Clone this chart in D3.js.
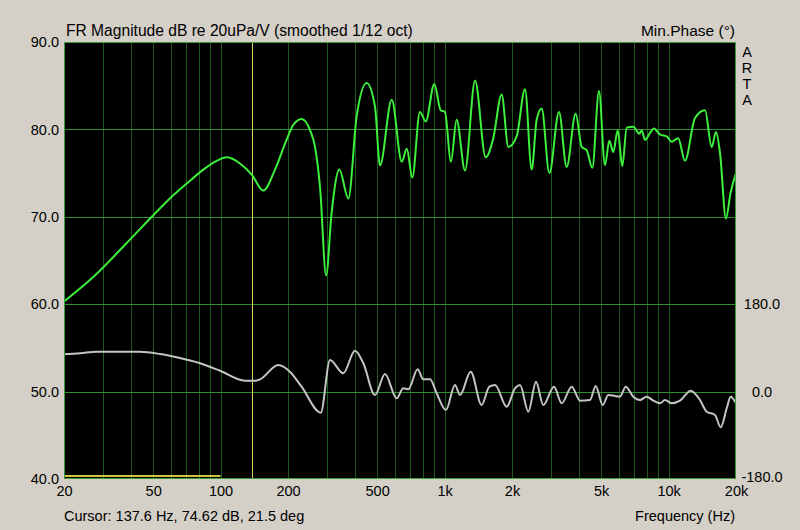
<!DOCTYPE html>
<html>
<head>
<meta charset="utf-8">
<script src="https://cdn.jsdelivr.net/npm/d3@7"></script>
<style>
  html, body { margin: 0; padding: 0; background: #d4d0c8; }
  svg text { font-family: "Liberation Sans", Arial, sans-serif; font-size: 14.5px; fill: #000; }
</style>
</head>
<body>
<div id="chart"></div>
<script>
/* Magnitude response (Hz, dB) */
const magFreq = [20, 27, 38.1, 49.3, 59.4, 70.6, 83.8, 96, 106.5, 122, 138, 155, 175, 197, 211, 230, 251, 264, 278, 296,
  313, 339, 372, 405, 449, 489, 515, 581, 644, 678, 718, 776, 824, 900, 961, 1004, 1068, 1132, 1234, 1368,
  1526, 1650, 1798, 1926, 2098, 2286, 2448, 2577, 2714, 2936, 3242, 3508, 3848, 4095, 4312, 4566, 4890, 5204,
  5436, 5665, 5928, 6216, 6502, 6959, 7401, 7589, 7850, 8262, 8609, 9160, 9809, 10326, 11049, 11832, 13123,
  14540, 15580, 16281, 16968, 18046, 18900, 20000]
const magDb = [60.3, 63.1, 67.0, 70.0, 72.1, 73.8, 75.4, 76.4, 76.8, 76.1, 74.8, 73.0, 75.4, 78.8, 80.5, 81.2, 79.9, 78.0, 73.4, 63.3,
  70.4, 75.4, 72.1, 81.5, 85.3, 82.6, 75.9, 83.4, 76.3, 77.8, 74.5, 82.0, 80.9, 85.2, 82.2, 82.0, 76.3, 81.1, 75.3, 85.6,
  76.8, 79.0, 84.0, 78.0, 79.2, 84.6, 75.4, 81.1, 82.4, 75.0, 82.0, 75.7, 81.8, 78.0, 77.6, 75.6, 84.4, 75.9,
  78.7, 77.4, 79.9, 75.8, 80.2, 80.3, 79.5, 79.9, 78.8, 79.6, 80.1, 79.4, 79.2, 78.6, 79.0, 76.4, 81.3,
  82.2, 78.0, 79.7, 77.3, 69.8, 72.7, 75.0]

/* Minimum phase (Hz, degrees) */
const phFreq = [20, 23.6, 28, 43.7, 53.7, 63.7, 81, 99.4, 128.6, 142.5, 150, 181, 204, 230, 280, 308, 353, 398, 434, 489,
  542, 611, 654, 689, 758, 804, 861, 922, 1014, 1113, 1172, 1308, 1464, 1584, 1680, 1894, 2062, 2172, 2366, 2560,
  2758, 3080, 3333, 3694, 4024, 4458, 4730, 5080, 5384, 5768, 6068, 6438, 6959, 7456, 7980, 8550, 9160, 9638,
  10326, 11246, 12560, 13810, 14796, 16112, 17092, 18178, 18930, 20000]
const phDeg = [76.8, 78.9, 82.2, 82.2, 77.4, 70.6, 58.3, 43.0, 22.4, 22.4, 25.3, 54.8, 41.0, 10.1, -43.5, 65.1, 37.7, 84.3, 58.3, -7.0,
  36.2, -13.8, 6.8, 4.7, 46.0, 25.3, 25.3, -3.5, -37.9, 13.6, -7.0, 41.0, -27.6, 10.1, 13.6, -31.1, 6.8, 13.6, -41.4, 20.4,
  -27.6, 10.1, -24.1, 10.1, -18.7, -17.3, 11.5, -27.6, -7.0, -9.1, -10.5, 10.1, -10.5, -17.3, -10.5, -18.7, -24.1, -17.3,
  -24.1, -18.7, 1.9, -17.3, -41.4, -48.2, -73.5, -34.4, -10.5, -24.1]

/* Axis ticks */
const dbTicks = [40, 50, 60, 70, 80, 90]
const phaseTicks = [-180, 0, 180]
const freqTicks = [20, 50, 100, 200, 500, 1000, 2000, 5000, 10000, 20000]
const freqLabels = ['20', '50', '100', '200', '500', '1k', '2k', '5k', '10k', '20k']

/* Cursor and the marker line along the bottom */
const cursorFreq = 137.6
const markerRange = [20, 100]

const W = 800, H = 530
const plot = {left: 64, right: 736, top: 42, bottom: 479}

const x = d3.scaleLog().domain([20, 20000]).range([plot.left, plot.right])
const y = d3.scaleLinear().domain([40, 90]).range([plot.bottom, plot.top])
// phase axis: -180 at the bottom, 180 deg per 10 dB
const yPh = d3.scaleLinear().domain([-180, 720]).range([plot.bottom, plot.top])

const svg = d3.select('#chart').append('svg')
  .attr('width', W)
  .attr('height', H)

svg.append('rect').attr('width', W).attr('height', H).attr('fill', '#d4d0c8')

/* Black plot area */
svg.append('rect')
  .attr('x', plot.left).attr('y', plot.top)
  .attr('width', plot.right - plot.left).attr('height', plot.bottom - plot.top)
  .attr('fill', '#000')

/* Grid */
const minor = []
for (let dec = 10; dec <= 10000; dec *= 10)
  for (let m = 1; m <= 9; m++) {
    const f = dec * m
    if (f > 20 && f < 20000) minor.push(f)
  }
svg.append('g').selectAll('line').data(minor).join('line')
  .attr('x1', d => Math.round(x(d)) + 0.5).attr('x2', d => Math.round(x(d)) + 0.5)
  .attr('y1', plot.top).attr('y2', plot.bottom)
  .attr('stroke', '#1f5a1f').attr('stroke-width', 1)
svg.append('g').selectAll('line').data(dbTicks.slice(1, -1)).join('line')
  .attr('x1', plot.left).attr('x2', plot.right)
  .attr('y1', d => Math.round(y(d)) + 0.5).attr('y2', d => Math.round(y(d)) + 0.5)
  .attr('stroke', '#2f8f2f').attr('stroke-width', 1)

/* Cursor */
svg.append('line')
  .attr('x1', Math.round(x(cursorFreq)) + 0.5).attr('x2', Math.round(x(cursorFreq)) + 0.5)
  .attr('y1', plot.top).attr('y2', plot.bottom)
  .attr('stroke', '#d8d860').attr('stroke-width', 1)
svg.append('line')
  .attr('x1', x(markerRange[0])).attr('x2', x(markerRange[1]))
  .attr('y1', plot.bottom - 3).attr('y2', plot.bottom - 3)
  .attr('stroke', '#c8c840').attr('stroke-width', 2)

/* Curves */
svg.append('clipPath').attr('id', 'clip').append('rect')
  .attr('x', plot.left).attr('y', plot.top)
  .attr('width', plot.right - plot.left).attr('height', plot.bottom - plot.top)

const magLine = d3.line().x(d => x(d[0])).y(d => y(d[1])).curve(d3.curveMonotoneX)
const phLine = d3.line().x(d => x(d[0])).y(d => yPh(d[1])).curve(d3.curveMonotoneX)

svg.append('path')
  .datum(d3.zip(phFreq, phDeg))
  .attr('clip-path', 'url(#clip)')
  .attr('d', phLine)
  .attr('fill', 'none').attr('stroke', '#c4c4c4').attr('stroke-width', 2)
svg.append('path')
  .datum(d3.zip(magFreq, magDb))
  .attr('clip-path', 'url(#clip)')
  .attr('d', magLine)
  .attr('fill', 'none').attr('stroke', '#3cf03c').attr('stroke-width', 2)

/* Border */
svg.append('rect')
  .attr('x', plot.left + 0.5).attr('y', plot.top + 0.5)
  .attr('width', plot.right - plot.left - 1).attr('height', plot.bottom - plot.top - 1)
  .attr('fill', 'none').attr('stroke', '#3a9a3a').attr('stroke-width', 1)

/* Axes */
const leftAxis = svg.append('g')
  .attr('transform', `translate(${plot.left - 5},0)`)
  .call(d3.axisLeft(y).tickValues(dbTicks).tickSize(0).tickFormat(d3.format('.1f')))
const rightAxis = svg.append('g')
  .attr('transform', `translate(${plot.right + 26},0)`)
  .call(d3.axisRight(yPh).tickValues(phaseTicks).tickSize(0).tickFormat(d3.format('.1f')))
const bottomAxis = svg.append('g')
  .attr('transform', `translate(0,${plot.bottom + 4})`)
  .call(d3.axisBottom(x).tickValues(freqTicks).tickSize(0).tickFormat((d, i) => freqLabels[i]))

;[leftAxis, rightAxis, bottomAxis].forEach(a => {
  a.select('.domain').remove()
  a.selectAll('text').attr('fill', '#000').style('font-size', '14.5px')
    .style('font-family', '"Liberation Sans", Arial, sans-serif')
})
leftAxis.selectAll('text').attr('x', 0)
rightAxis.selectAll('text').attr('x', 0).attr('text-anchor', 'middle')
  .text(d => d3.format('.1f')(d).replace('\u2212', '-'))
rightAxis.selectAll('.tick').filter(d => d === -180).select('text').attr('dy', '0.2em')

/* Titles */
svg.append('text').attr('x', 66).attr('y', 36).style('font-size', '15.6px')
  .text('FR Magnitude dB re 20uPa/V (smoothed 1/12 oct)')
svg.append('text').attr('x', 735).attr('y', 36).attr('text-anchor', 'end').style('font-size', '15.5px')
  .text('Min.Phase (\u00b0)')
'ARTA'.split('').forEach((c, i) => {
  svg.append('text').attr('x', 747).attr('y', 57 + i * 16).attr('text-anchor', 'middle').text(c)
})
svg.append('text').attr('x', 64).attr('y', 521).text('Cursor: 137.6 Hz, 74.62 dB, 21.5 deg')
svg.append('text').attr('x', 735).attr('y', 521).attr('text-anchor', 'end').text('Frequency (Hz)')
</script>
</body>
</html>
